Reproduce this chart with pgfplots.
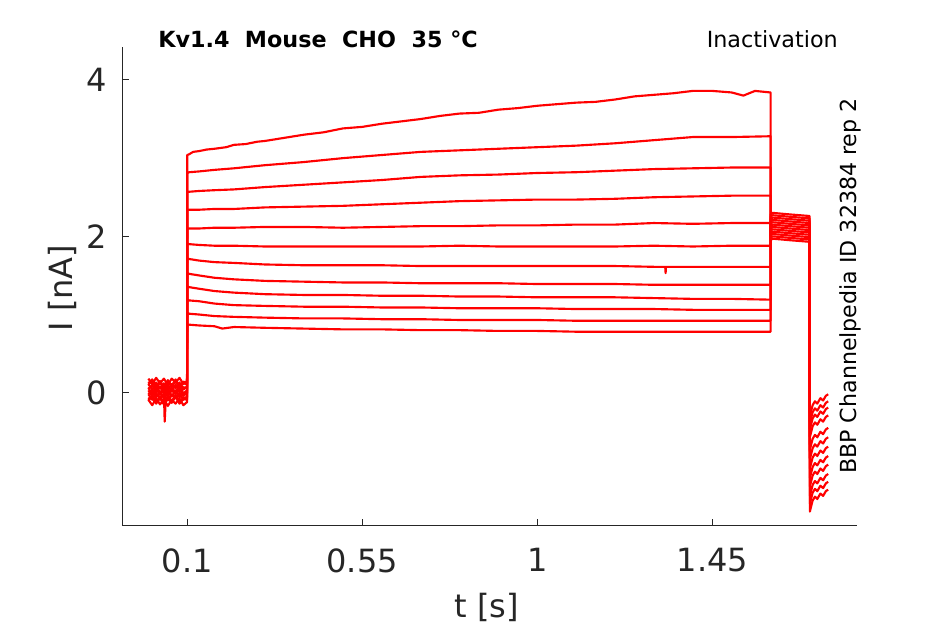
\documentclass[border=0pt]{standalone}
\usepackage{pgfplots}
\pgfplotsset{compat=1.18}
\usepackage{fontspec}
\setmainfont{DejaVu Sans}
\definecolor{axgray}{HTML}{262626}
\begin{document}
\begin{tikzpicture}[tr/.style={color=red, solid, line width=1.6pt, line join=round, mark=none}]
\useasboundingbox (0,0) rectangle (708.75pt,468pt);
\begin{axis}[
  at={(91.7pt,73.5pt)}, anchor=south west,
  width=550.8pt, height=359.5pt, scale only axis,
  xmin=-0.0671, xmax=1.8213, ymin=-1.705, ymax=4.426,
  axis x line*=bottom, axis y line*=left,
  xtick={0.1,0.55,1,1.45}, xticklabels={0.1,0.55,1,1.45},
  ytick={0,2,4}, yticklabels={0,2,4},
  tick align=inside, major tick length=5.25pt,
  axis line style={color=axgray, line width=0.75pt},
  tick style={color=axgray, line width=0.75pt},
  /pgf/number format/assume math mode=true,
  ticklabel style={font=\fontsize{24}{28}\selectfont, text=axgray},
  xticklabel style={inner sep=0pt, yshift=-16.5pt},
  yticklabel style={inner sep=0pt, xshift=-11.25pt},
  clip=false,
]
% T1
\addplot[tr] coordinates {(0,0.18)(0.01,0.11)(0.02,0.19)(0.03,0.12)(0.04,0.18)(0.05,0.10)(0.06,0.18)(0.07,0.13)(0.08,0.19)(0.09,0.11)(0.0995,0.15)
(0.1,3.04)(0.105,3.05)(0.115,3.08)(0.13,3.09)(0.15,3.11)(0.17,3.12)(0.2,3.14)(0.22,3.17)(0.25,3.18)(0.28,3.21)(0.3,3.22)(0.35,3.26)(0.4,3.30)(0.45,3.33)(0.5,3.38)(0.55,3.40)(0.6,3.44)(0.65,3.47)(0.7,3.50)(0.75,3.54)(0.8,3.57)(0.85,3.58)(0.9,3.62)(0.95,3.64)(1.0,3.67)(1.05,3.69)(1.1,3.71)(1.15,3.72)(1.2,3.75)(1.25,3.79)(1.3,3.81)(1.35,3.83)(1.4,3.86)(1.45,3.86)(1.5,3.84)(1.53,3.80)(1.56,3.86)(1.6,3.84)
(1.6,1.95)(1.605,1.97)(1.65,1.95)(1.70,1.93)
(1.701,-1.52)(1.708,-1.38)(1.714,-1.33)(1.72,-1.36)(1.728,-1.29)(1.735,-1.32)(1.742,-1.26)(1.748,-1.24)};
% T2
\addplot[tr] coordinates {(0,-0.10)(0.01,-0.05)(0.02,-0.14)(0.03,-0.07)(0.04,-0.15)(0.05,-0.06)(0.06,-0.13)(0.07,-0.05)(0.08,-0.14)(0.09,-0.08)(0.0995,-0.09)
(0.1,2.81)(0.105,2.82)(0.13,2.83)(0.17,2.85)(0.22,2.87)(0.3,2.91)(0.4,2.95)(0.5,3.00)(0.6,3.04)(0.7,3.08)(0.8,3.10)(0.9,3.12)(1.0,3.14)(1.1,3.16)(1.2,3.19)(1.3,3.23)(1.4,3.27)(1.5,3.27)(1.6,3.28)
(1.6,1.98)(1.605,2.00)(1.65,1.98)(1.70,1.96)
(1.701,-1.42)(1.708,-1.28)(1.714,-1.23)(1.72,-1.26)(1.728,-1.19)(1.735,-1.22)(1.742,-1.16)(1.748,-1.14)};
% T3
\addplot[tr] coordinates {(0,0.10)(0.01,0.15)(0.02,0.06)(0.03,0.13)(0.04,0.05)(0.05,0.14)(0.06,0.07)(0.07,0.15)(0.08,0.06)(0.09,0.12)(0.0995,0.11)
(0.1,2.57)(0.105,2.57)(0.13,2.58)(0.17,2.59)(0.22,2.60)(0.3,2.63)(0.4,2.66)(0.5,2.69)(0.6,2.72)(0.7,2.76)(0.8,2.78)(0.9,2.79)(1.0,2.81)(1.1,2.82)(1.2,2.84)(1.3,2.86)(1.4,2.87)(1.5,2.88)(1.6,2.88)
(1.6,2.01)(1.605,2.03)(1.65,2.01)(1.70,1.99)
(1.701,-1.32)(1.708,-1.18)(1.714,-1.13)(1.72,-1.16)(1.728,-1.09)(1.735,-1.12)(1.742,-1.06)(1.748,-1.04)};
% T4
\addplot[tr] coordinates {(0,-0.02)(0.01,-0.09)(0.02,0.00)(0.03,-0.08)(0.04,-0.01)(0.042,-0.37)(0.045,-0.06)(0.05,-0.10)(0.06,-0.02)(0.07,-0.07)(0.08,0.00)(0.09,-0.09)(0.0995,-0.05)
(0.1,2.34)(0.105,2.34)(0.13,2.34)(0.17,2.35)(0.22,2.35)(0.3,2.37)(0.4,2.38)(0.5,2.39)(0.6,2.41)(0.7,2.43)(0.8,2.45)(0.9,2.46)(1.0,2.47)(1.1,2.47)(1.2,2.48)(1.3,2.50)(1.4,2.51)(1.5,2.52)(1.6,2.52)
(1.6,2.04)(1.605,2.06)(1.65,2.04)(1.70,2.02)
(1.701,-1.20)(1.708,-1.06)(1.714,-1.01)(1.72,-1.04)(1.728,-0.97)(1.735,-1.00)(1.742,-0.94)(1.748,-0.92)};
% T5
\addplot[tr] coordinates {(0,0.05)(0.01,0.10)(0.02,0.01)(0.03,0.08)(0.04,0.00)(0.05,0.09)(0.06,0.02)(0.07,0.10)(0.08,0.01)(0.09,0.07)(0.0995,0.06)
(0.1,2.10)(0.105,2.10)(0.13,2.10)(0.17,2.11)(0.22,2.11)(0.3,2.12)(0.4,2.12)(0.5,2.11)(0.6,2.12)(0.7,2.13)(0.8,2.13)(0.9,2.14)(1.0,2.14)(1.1,2.15)(1.2,2.15)(1.3,2.17)(1.4,2.16)(1.5,2.17)(1.6,2.17)
(1.6,2.07)(1.605,2.09)(1.65,2.07)(1.70,2.05)
(1.701,-1.09)(1.708,-0.95)(1.714,-0.90)(1.72,-0.93)(1.728,-0.86)(1.735,-0.89)(1.742,-0.83)(1.748,-0.81)};
% T6
\addplot[tr] coordinates {(0,-0.09)(0.01,-0.16)(0.02,-0.07)(0.03,-0.15)(0.04,-0.08)(0.05,-0.17)(0.06,-0.09)(0.07,-0.14)(0.08,-0.07)(0.09,-0.16)(0.0995,-0.12)
(0.1,1.91)(0.105,1.90)(0.13,1.89)(0.17,1.88)(0.22,1.88)(0.3,1.87)(0.4,1.87)(0.5,1.87)(0.6,1.87)(0.7,1.87)(0.8,1.88)(0.9,1.87)(1.0,1.87)(1.1,1.87)(1.2,1.87)(1.3,1.88)(1.4,1.87)(1.5,1.88)(1.6,1.88)
(1.6,2.10)(1.605,2.12)(1.65,2.10)(1.70,2.08)
(1.701,-0.97)(1.708,-0.83)(1.714,-0.78)(1.72,-0.81)(1.728,-0.74)(1.735,-0.77)(1.742,-0.71)(1.748,-0.69)};
% T7
\addplot[tr] coordinates {(0,0.12)(0.01,0.17)(0.02,0.08)(0.03,0.15)(0.04,0.07)(0.05,0.16)(0.06,0.09)(0.07,0.17)(0.08,0.08)(0.09,0.14)(0.0995,0.13)
(0.1,1.72)(0.105,1.71)(0.13,1.69)(0.17,1.67)(0.22,1.66)(0.3,1.64)(0.4,1.63)(0.5,1.63)(0.6,1.63)(0.7,1.62)(0.8,1.62)(0.9,1.62)(1.0,1.62)(1.1,1.62)(1.2,1.62)(1.3,1.61)(1.329,1.61)(1.33,1.53)(1.331,1.61)(1.4,1.61)(1.5,1.61)(1.6,1.61)
(1.6,2.13)(1.605,2.15)(1.65,2.13)(1.70,2.11)
(1.701,-0.85)(1.708,-0.71)(1.714,-0.66)(1.72,-0.69)(1.728,-0.62)(1.735,-0.65)(1.742,-0.59)(1.748,-0.57)};
% T8
\addplot[tr] coordinates {(0,0.03)(0.01,-0.04)(0.02,0.05)(0.03,-0.03)(0.04,0.04)(0.05,-0.05)(0.06,0.03)(0.07,-0.02)(0.08,0.05)(0.09,-0.04)(0.0995,0.00)
(0.1,1.53)(0.105,1.52)(0.13,1.50)(0.17,1.47)(0.22,1.45)(0.3,1.43)(0.4,1.42)(0.5,1.41)(0.6,1.41)(0.7,1.40)(0.8,1.40)(0.9,1.40)(1.0,1.39)(1.1,1.39)(1.2,1.39)(1.3,1.38)(1.4,1.38)(1.5,1.38)(1.6,1.38)
(1.6,2.16)(1.605,2.18)(1.65,2.16)(1.70,2.14)
(1.701,-0.73)(1.708,-0.59)(1.714,-0.54)(1.72,-0.57)(1.728,-0.50)(1.735,-0.53)(1.742,-0.47)(1.748,-0.45)};
% T9
\addplot[tr] coordinates {(0,-0.08)(0.01,-0.03)(0.02,-0.12)(0.03,-0.05)(0.04,-0.13)(0.05,-0.04)(0.06,-0.11)(0.07,-0.03)(0.08,-0.12)(0.09,-0.06)(0.0995,-0.07)
(0.1,1.36)(0.105,1.35)(0.13,1.33)(0.17,1.30)(0.22,1.28)(0.3,1.26)(0.4,1.25)(0.5,1.25)(0.6,1.24)(0.7,1.24)(0.8,1.23)(0.9,1.23)(1.0,1.22)(1.1,1.22)(1.2,1.22)(1.3,1.21)(1.4,1.20)(1.5,1.20)(1.6,1.19)
(1.6,2.19)(1.605,2.21)(1.65,2.19)(1.70,2.17)
(1.701,-0.57)(1.708,-0.43)(1.714,-0.38)(1.72,-0.41)(1.728,-0.34)(1.735,-0.37)(1.742,-0.31)(1.748,-0.29)};
% T10
\addplot[tr] coordinates {(0,0.11)(0.01,0.04)(0.02,0.13)(0.03,0.05)(0.04,0.12)(0.05,0.03)(0.06,0.11)(0.07,0.06)(0.08,0.13)(0.09,0.04)(0.0995,0.08)
(0.1,1.19)(0.105,1.18)(0.13,1.17)(0.17,1.14)(0.22,1.12)(0.3,1.11)(0.4,1.10)(0.5,1.10)(0.6,1.09)(0.7,1.09)(0.8,1.08)(0.9,1.08)(1.0,1.08)(1.1,1.07)(1.2,1.07)(1.3,1.07)(1.4,1.06)(1.5,1.06)(1.6,1.06)
(1.6,2.22)(1.605,2.24)(1.65,2.22)(1.70,2.20)
(1.701,-0.47)(1.708,-0.33)(1.714,-0.28)(1.72,-0.31)(1.728,-0.24)(1.735,-0.27)(1.742,-0.21)(1.748,-0.19)};
% T11
\addplot[tr] coordinates {(0,-0.02)(0.01,0.03)(0.02,-0.06)(0.03,0.01)(0.04,-0.07)(0.05,0.02)(0.06,-0.05)(0.07,0.03)(0.08,-0.06)(0.09,0.00)(0.0995,-0.01)
(0.1,1.02)(0.105,1.01)(0.13,1.00)(0.17,0.98)(0.22,0.97)(0.3,0.96)(0.4,0.95)(0.5,0.95)(0.6,0.94)(0.7,0.94)(0.8,0.93)(0.9,0.93)(1.0,0.93)(1.1,0.92)(1.2,0.92)(1.3,0.92)(1.4,0.92)(1.5,0.92)(1.6,0.92)
(1.6,2.25)(1.605,2.27)(1.65,2.25)(1.70,2.23)
(1.701,-0.39)(1.708,-0.25)(1.714,-0.20)(1.72,-0.23)(1.728,-0.16)(1.735,-0.19)(1.742,-0.13)(1.748,-0.11)};
% T12
\addplot[tr] coordinates {(0,0.06)(0.01,-0.01)(0.02,0.08)(0.03,0.00)(0.04,0.07)(0.05,-0.02)(0.06,0.06)(0.07,0.01)(0.08,0.08)(0.09,-0.01)(0.0995,0.03)
(0.1,0.87)(0.105,0.87)(0.13,0.86)(0.17,0.85)(0.19,0.82)(0.22,0.84)(0.3,0.83)(0.4,0.82)(0.5,0.81)(0.6,0.81)(0.7,0.80)(0.8,0.80)(0.9,0.79)(1.0,0.79)(1.1,0.78)(1.2,0.78)(1.3,0.78)(1.4,0.78)(1.5,0.78)(1.6,0.78)
(1.6,2.28)(1.605,2.30)(1.65,2.28)(1.70,2.26)
(1.701,-0.30)(1.708,-0.16)(1.714,-0.11)(1.72,-0.14)(1.728,-0.07)(1.735,-0.10)(1.742,-0.04)(1.748,-0.02)};
\end{axis}
\node[anchor=base west, inner sep=0pt, font=\fontsize{16.7}{20}\selectfont\bfseries] at (118.5pt,432.5pt) {Kv1.4\ \ Mouse\ \ CHO\ \ 35 °C};
\node[anchor=base east, inner sep=0pt, font=\fontsize{16.7}{20}\selectfont] at (628.5pt,432.5pt) {Inactivation};
\node[anchor=base, rotate=90, inner sep=0pt, font=\fontsize{16.6}{20}\selectfont] at (642pt,253.5pt) {BBP Channelpedia ID 32384 rep 2};
\node[anchor=base, inner sep=0pt, font=\fontsize{24}{28}\selectfont, text=axgray] at (365.25pt,5.25pt) {t [s]};
\node[anchor=base, rotate=90, inner sep=0pt, font=\fontsize{24}{28}\selectfont, text=axgray] at (54pt,252pt) {I [nA]};
\end{tikzpicture}
\end{document}
